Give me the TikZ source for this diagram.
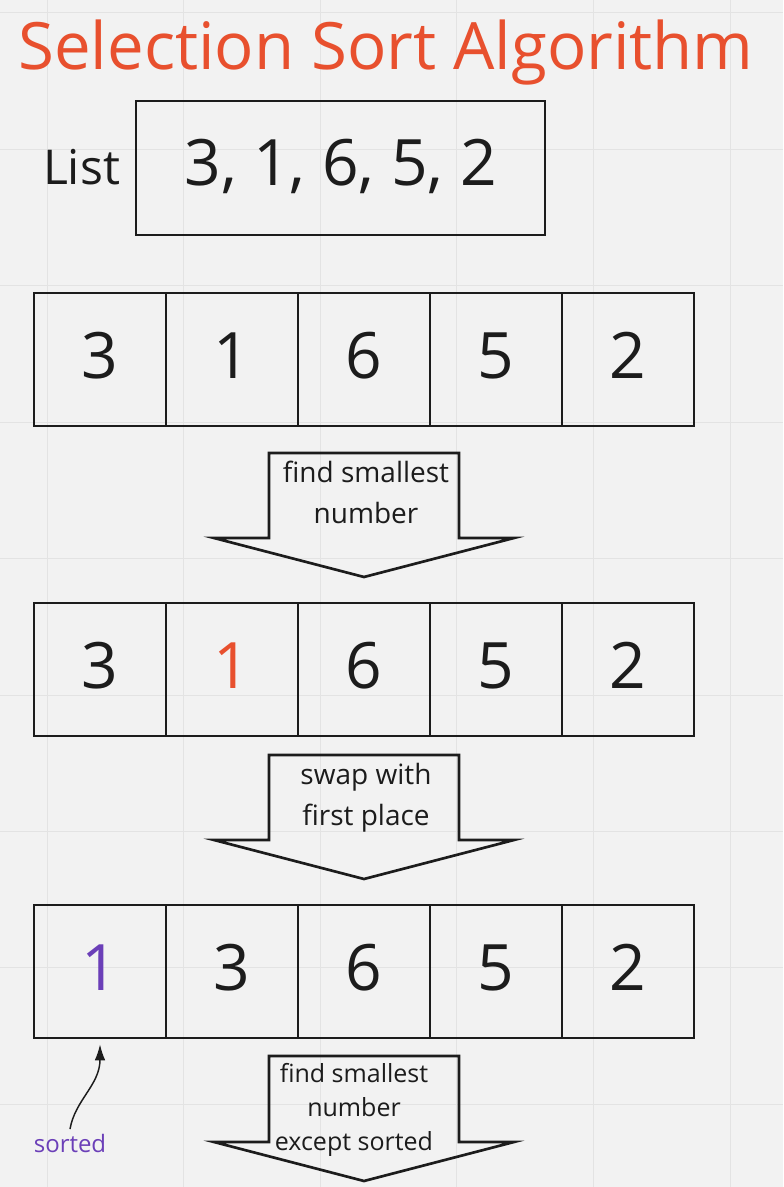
\documentclass[tikz,border=0pt]{standalone}
\usepackage{tikz}
\usepackage{fontspec}
\setmainfont{Open Sans}
\usetikzlibrary{arrows.meta}

\definecolor{bggray}{HTML}{F2F2F2}
\definecolor{gridgray}{HTML}{E3E3E3}
\definecolor{titlered}{HTML}{E8502E}
\definecolor{sortpurple}{HTML}{6B3FB8}
\definecolor{ink}{HTML}{1C1C1C}

\begin{document}
\begin{tikzpicture}[x=0.75pt, y=-0.75pt, >={Latex[length=12pt, width=8pt]},
  cell/.style={draw=ink, line width=2pt, minimum width=99pt, minimum height=99.75pt, inner sep=0pt,
    text=ink, text height=35pt, text depth=6pt, font=\fontsize{48}{50}\selectfont},
  blockarrow/.style={draw=ink, line width=2pt, line join=miter},
  arrowtext/.style={anchor=north, inner sep=0pt, align=center, text=ink, font=\fontsize{21}{30.75}\selectfont}]

\fill[bggray] (0, 0) rectangle (783, 1187);
\useasboundingbox (0, 0) rectangle (783, 1187);

\foreach \gx in {47, 183.6, ..., 783} \draw[gridgray, line width=0.75pt] (\gx, 0) -- (\gx, 1187);
\foreach \gy in {13, 149.4, ..., 1187} \draw[gridgray, line width=0.75pt] (0, \gy) -- (783, \gy);

\node[anchor=base, text=titlered, font=\fontsize{49}{52}\selectfont] (title) at (386, 70) {Selection Sort Algorithm};

\node[anchor=base, text=ink, font=\fontsize{36}{40}\selectfont] (listlabel) at (81.5, 185) {List};
\node[draw=ink, line width=2pt, minimum width=306.75pt, minimum height=100.5pt, inner sep=0pt, text=ink,
  text height=35pt, text depth=9pt, font=\fontsize{48}{50}\selectfont] (listbox) at (340.5, 168) {3, 1, 6, 5, 2};

% first row
\node[cell] (a1) at (100, 359.5) {3};
\node[cell] (a2) at (232, 359.5) {1};
\node[cell] (a3) at (364, 359.5) {6};
\node[cell] (a4) at (496, 359.5) {5};
\node[cell] (a5) at (628, 359.5) {2};

\draw[blockarrow] (269, 453) --++(190, 0) --++(0, 85) --++(55, 0) --++(-150, 39) --++(-150, -39) --++(55, 0) -- cycle;
\node[arrowtext] (find1) at (366, 461) {find smallest\\number};

% second row
\node[cell] (b1) at (100, 669.5) {3};
\node[cell, text=titlered] (b2) at (232, 669.5) {1};
\node[cell] (b3) at (364, 669.5) {6};
\node[cell] (b4) at (496, 669.5) {5};
\node[cell] (b5) at (628, 669.5) {2};

\draw[blockarrow] (269, 755) --++(190, 0) --++(0, 85) --++(55, 0) --++(-150, 39) --++(-150, -39) --++(55, 0) -- cycle;
\node[arrowtext] (swap) at (366, 763) {swap with\\first place};

% third row
\node[cell, text=sortpurple] (c1) at (100, 971.5) {1};
\node[cell] (c2) at (232, 971.5) {3};
\node[cell] (c3) at (364, 971.5) {6};
\node[cell] (c4) at (496, 971.5) {5};
\node[cell] (c5) at (628, 971.5) {2};

\draw[blockarrow] (269, 1056) --++(190, 0) --++(0, 86) --++(55, 0) --++(-150, 39) --++(-150, -39) --++(55, 0) -- cycle;
\node[arrowtext, font=\fontsize{18.75}{25.5}\selectfont] (find2) at (354, 1063) {find smallest\\number\\except sorted};

\node[anchor=base, text=sortpurple, font=\fontsize{18}{20}\selectfont] (sorted) at (70, 1152) {sorted};
\draw[->, ink, line width=1.1pt, shorten >=3.75pt] (sorted.north) .. controls (75, 1100) and (100, 1085) .. (c1.south);

\end{tikzpicture}
\end{document}
